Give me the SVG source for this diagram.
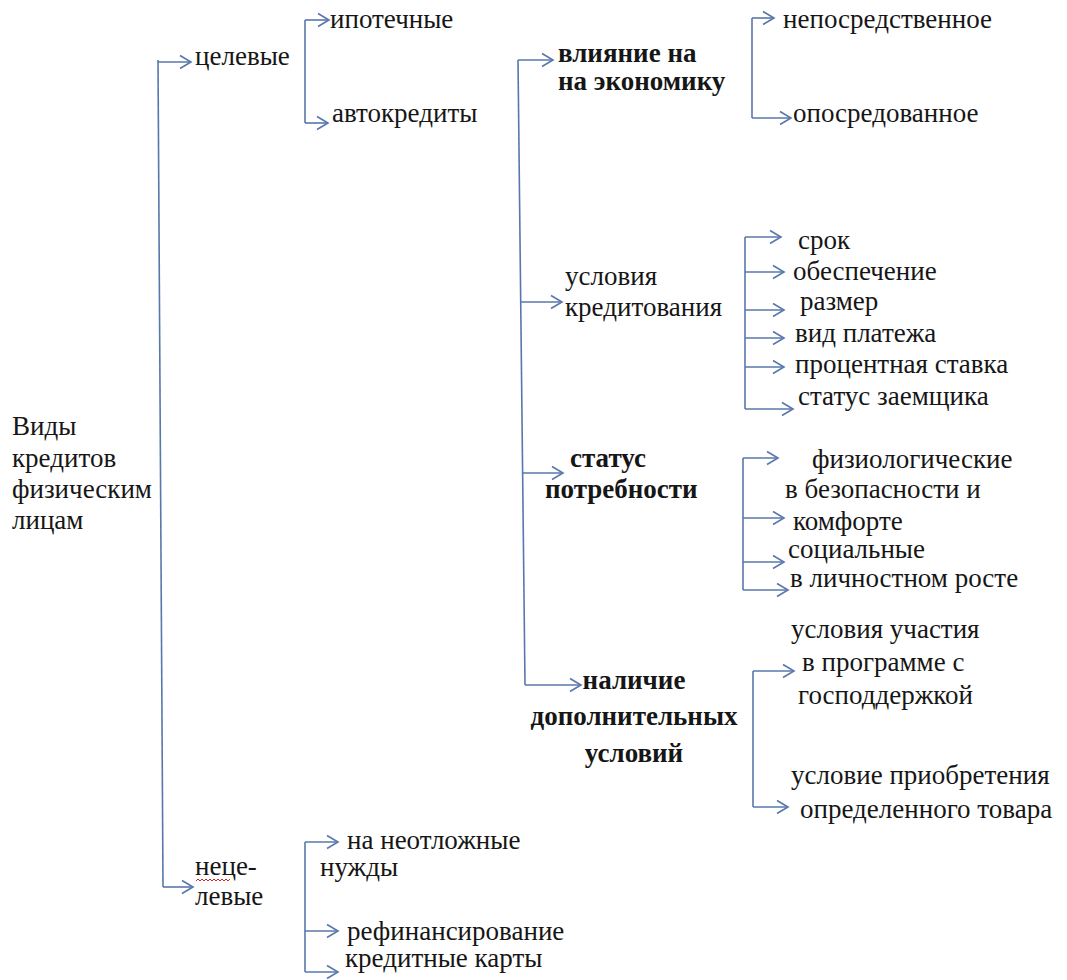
<svg xmlns="http://www.w3.org/2000/svg" width="1067" height="980" viewBox="0 0 1067 980">
<style>
text{font-family:"Liberation Serif","Liberation Sans",sans-serif;font-size:27px;fill:#161616}
.b{font-weight:bold}
.c{text-anchor:middle}
.ln{fill:none;stroke:#5877ab;stroke-width:1.6}
.ar{fill:none;stroke:#5877ab;stroke-width:1.6;marker-end:url(#ah)}
</style>
<defs>
<marker id="ah" markerUnits="userSpaceOnUse" markerWidth="16" markerHeight="16" refX="13" refY="8" orient="auto">
<path d="M2,1.5 L13,8 L2,14.5" fill="none" stroke="#5877ab" stroke-width="1.6"/>
</marker>
</defs>
<rect width="1067" height="980" fill="#fff"/>
<g id="connectors">
<path class="ln" d="M158,60 L163,887"/>
<path class="ar" d="M158,62 L191,62"/>
<path class="ar" d="M163,887 L193,887"/>
<path class="ln" d="M305,20 L305,123"/>
<path class="ar" d="M305,20 L329,20"/>
<path class="ar" d="M305,123 L328,123"/>
<path class="ln" d="M305,842 L305,972"/>
<path class="ar" d="M305,842 L338,842"/>
<path class="ar" d="M305,931 L338,931"/>
<path class="ar" d="M305,972 L338,972"/>
<path class="ln" d="M518,60 L525,685"/>
<path class="ar" d="M518,60 L553,60"/>
<path class="ar" d="M520.7,302 L562,302"/>
<path class="ar" d="M522.6,473 L563,473"/>
<path class="ar" d="M525,685 L581,685"/>
<path class="ln" d="M752,18 L752,118"/>
<path class="ar" d="M752,18 L774,18"/>
<path class="ar" d="M752,118 L791,118"/>
<path class="ln" d="M745,237 L745,409"/>
<path class="ar" d="M745,237 L781,237"/>
<path class="ar" d="M745,272 L784,272"/>
<path class="ar" d="M745,310 L784,310"/>
<path class="ar" d="M745,338 L784,338"/>
<path class="ar" d="M745,367 L784,367"/>
<path class="ar" d="M745,409 L793,409"/>
<path class="ln" d="M743,458 L743,590"/>
<path class="ar" d="M743,458 L778,458"/>
<path class="ar" d="M743,518 L784,518"/>
<path class="ar" d="M743,562 L784,562"/>
<path class="ar" d="M743,590 L788,590"/>
<path class="ln" d="M753,671 L753,807"/>
<path class="ar" d="M753,671 L794,671"/>
<path class="ar" d="M753,807 L788,807"/>
</g>
<g id="root"><text x="12" y="435">Виды</text><text x="12" y="467">кредитов</text><text x="12" y="498">физическим</text><text x="12" y="529">лицам</text></g>
<g id="target"><text x="195" y="65">целевые</text></g>
<g id="mortgage"><text x="330" y="28">ипотечные</text></g>
<g id="autoloans"><text x="332" y="122">автокредиты</text></g>
<g id="nontarget"><text x="195" y="875">неце-</text><text x="195" y="905">левые</text><path d="M196,881 l2,-2 l2,2 l2,-2 l2,2 l2,-2 l2,2 l2,-2 l2,2 l2,-2 l2,2 l2,-2 l2,2 l2,-2 l2,2 l2,-2 l2,2 l2,-2" fill="none" stroke="#e02020" stroke-width="1"/></g>
<g id="urgent"><text x="347" y="849">на неотложные</text><text x="320" y="876">нужды</text></g>
<g id="refinancing"><text x="347" y="940">рефинансирование</text></g>
<g id="cards"><text x="345" y="967">кредитные карты</text></g>
<g id="impact"><text class="b" x="558" y="62">влияние на</text><text class="b" x="558" y="90">на экономику</text></g>
<g id="direct"><text x="783" y="28">непосредственное</text></g>
<g id="indirect"><text x="793" y="122">опосредованное</text></g>
<g id="terms"><text x="565" y="285">условия</text><text x="565" y="316">кредитования</text></g>
<g id="term"><text x="798" y="249">срок</text></g>
<g id="collateral"><text x="793" y="280">обеспечение</text></g>
<g id="size"><text x="800" y="310">размер</text></g>
<g id="payment"><text x="795" y="342">вид платежа</text></g>
<g id="rate"><text x="795" y="373">процентная ставка</text></g>
<g id="borrower"><text x="798" y="405">статус заемщика</text></g>
<g id="needs"><text class="b" x="570" y="467">статус</text><text class="b" x="545" y="498">потребности</text></g>
<g id="physio"><text x="812" y="468">физиологические</text></g>
<g id="safety"><text x="785" y="498">в безопасности и</text><text x="793" y="530">комфорте</text></g>
<g id="social"><text x="788" y="558">социальные</text></g>
<g id="growth"><text x="790" y="587">в личностном росте</text></g>
<g id="extra"><text class="b c" x="634" y="689">наличие</text><text class="b c" x="634" y="725">дополнительных</text><text class="b c" x="634" y="762">условий</text></g>
<g id="program"><text x="791" y="638">условия участия</text><text x="802" y="671">в программе с</text><text x="798" y="704">господдержкой</text></g>
<g id="goods"><text x="791" y="784">условие приобретения</text><text x="800" y="818">определенного товара</text></g>
</svg>
